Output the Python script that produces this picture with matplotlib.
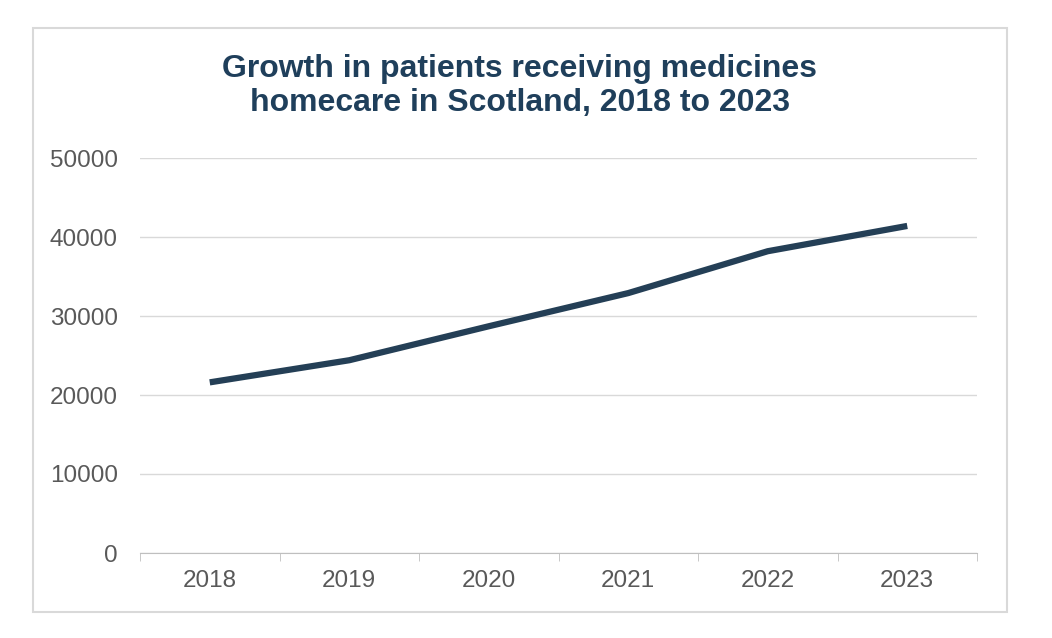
import matplotlib.pyplot as plt
from matplotlib.patches import Rectangle
import numpy as np

plt.rcParams['font.family'] = ['Liberation Sans', 'DejaVu Sans']

years = ["2018", "2019", "2020", "2021", "2022", "2023"]
patients = [21600, 24400, 28700, 32900, 38200, 41400]
yticks = [0, 10000, 20000, 30000, 40000, 50000]

fig = plt.figure(figsize=(10.52, 6.38), dpi=100)
fig.patches.append(Rectangle((33/1052, 1-612/638), 974/1052, 584/638,
                             transform=fig.transFigure, fill=False,
                             edgecolor="#d9d9d9", linewidth=1.5))
ax = fig.add_axes([140/1052, 1-553/638, 837/1052, 395/638])

x = np.arange(len(years))
ax.plot(x, patients, color="#243f56", linewidth=4.5, solid_capstyle="butt")

ax.set_xlim(-0.5, len(years) - 0.5)
ax.set_ylim(0, 50000)
ax.set_yticks(yticks)
ax.set_yticklabels([str(v) for v in yticks])
ax.set_xticks(x)
ax.set_xticklabels(years)
ax.set_xticks(np.arange(-0.5, len(years)), minor=True)
ax.tick_params(axis="x", which="major", length=0, pad=12)
ax.tick_params(axis="x", which="minor", length=6, color="#bfbfbf")
ax.tick_params(axis="y", length=0, pad=16)
ax.tick_params(labelsize=17.5, labelcolor="#595959")
ax.grid(axis="y", color="#d9d9d9", linewidth=1)
ax.set_axisbelow(True)
for s in ["top", "right", "left"]:
    ax.spines[s].set_visible(False)
ax.spines["bottom"].set_color("#bfbfbf")

fig.text(520/1052, 1-86/638, "Growth in patients receiving medicines\nhomecare in Scotland, 2018 to 2023",
         ha="center", va="center", fontsize=23, fontweight="bold", color="#1f3f5b",
         linespacing=1.15)

fig.savefig("out.png", dpi=100)
